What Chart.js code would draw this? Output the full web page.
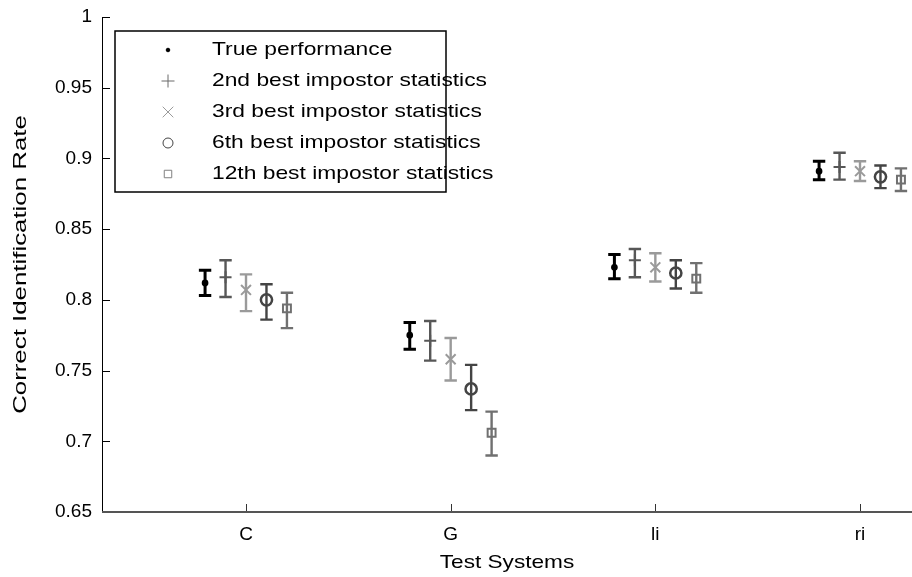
<!DOCTYPE html>
<html>
<head>
<meta charset="utf-8">
<script src="https://cdn.jsdelivr.net/npm/chart.js@4/dist/chart.umd.min.js"></script>
<style>
  html, body { margin: 0; padding: 0; background: #fff; }
  #c { display: block; }
</style>
</head>
<body>
<canvas id="c" width="912" height="577"></canvas>
<script>
// ---------------- data ----------------
const categories = ['C', 'G', 'li', 'ri'];
const seriesLabels = [
  'True performance',
  '2nd best impostor statistics',
  '3rd best impostor statistics',
  '6th best impostor statistics',
  '12th best impostor statistics'
];
const yTicks = [0.65, 0.7, 0.75, 0.8, 0.85, 0.9, 0.95, 1];
const xTitle = 'Test Systems';
const yTitle = 'Correct Identification Rate';

const trueMean = [0.812, 0.775, 0.823, 0.891];
const trueLow  = [0.803, 0.765, 0.815, 0.885];
const trueHigh = [0.821, 0.784, 0.832, 0.898];

const best2Mean = [0.816, 0.771, 0.828, 0.894];
const best2Low  = [0.802, 0.757, 0.816, 0.885];
const best2High = [0.828, 0.785, 0.836, 0.904];

const best3Mean = [0.807, 0.758, 0.823, 0.891];
const best3Low  = [0.792, 0.743, 0.813, 0.884];
const best3High = [0.818, 0.773, 0.833, 0.898];

const best6Mean = [0.800, 0.737, 0.819, 0.887];
const best6Low  = [0.786, 0.722, 0.808, 0.879];
const best6High = [0.811, 0.754, 0.828, 0.895];

const best12Mean = [0.794, 0.706, 0.815, 0.885];
const best12Low  = [0.780, 0.690, 0.805, 0.877];
const best12High = [0.805, 0.721, 0.826, 0.893];

// group dodge (category units)
const dodge = [-0.2, -0.1, 0, 0.1, 0.2];

// ---------------- styling ----------------
const FONT = "'Liberation Sans', Arial, Helvetica, sans-serif";
const colors = ['#000000', '#575757', '#9a9a9a', '#444444', '#707070'];
const legendColors = ['#000000', '#6a6a6a', '#9a9a9a', '#444444', '#808080'];
const styles = [
  { pointStyle: 'circle',   radius: 2.6, fill: true,  lw: 1.5 },
  { pointStyle: 'cross',    radius: 6,   fill: false, lw: 2 },
  { pointStyle: 'crossRot', radius: 7,   fill: false, lw: 2 },
  { pointStyle: 'circle',   radius: 5.6, fill: false, lw: 2.5 },
  { pointStyle: 'rect',     radius: 5.6, fill: false, lw: 2 }
];
const legendStyles = [
  { pointStyle: 'circle',   radius: 1.8, fill: true },
  { pointStyle: 'cross',    radius: 6.5, fill: false },
  { pointStyle: 'crossRot', radius: 7.5, fill: false },
  { pointStyle: 'circle',   radius: 5,   fill: false },
  { pointStyle: 'rect',     radius: 5.3, fill: false }
];

const means = [trueMean, best2Mean, best3Mean, best6Mean, best12Mean];
const lows  = [trueLow, best2Low, best3Low, best6Low, best12Low];
const highs = [trueHigh, best2High, best3High, best6High, best12High];

const datasets = seriesLabels.map((lab, k) => ({
  label: lab,
  data: categories.map((c, i) => ({ x: i + dodge[k], y: means[k][i] })),
  showLine: false,
  pointStyle: styles[k].pointStyle,
  pointRadius: styles[k].radius,
  pointBorderWidth: styles[k].lw,
  borderColor: colors[k],
  backgroundColor: styles[k].fill ? colors[k] : 'rgba(0,0,0,0)',
  pointBackgroundColor: styles[k].fill ? colors[k] : 'rgba(0,0,0,0)',
  pointBorderColor: colors[k],
  pointHoverRadius: styles[k].radius,
  clip: false
}));

// ---------------- plugins ----------------
const errorBars = {
  id: 'errorBars',
  beforeDatasetsDraw(chart) {
    const { ctx, scales: { x, y } } = chart;
    ctx.save();
    ctx.lineCap = 'butt';
    seriesLabels.forEach((lab, k) => {
      ctx.strokeStyle = colors[k];
      ctx.lineWidth = k === 0 ? 3 : 2.4;
      const cap = 6.2;
      categories.forEach((c, i) => {
        const px = x.getPixelForValue(i + dodge[k]);
        const yl = y.getPixelForValue(lows[k][i]);
        const yh = y.getPixelForValue(highs[k][i]);
        ctx.beginPath();
        ctx.moveTo(px, yl); ctx.lineTo(px, yh);
        ctx.moveTo(px - cap, yl); ctx.lineTo(px + cap, yl);
        ctx.moveTo(px - cap, yh); ctx.lineTo(px + cap, yh);
        ctx.stroke();
      });
    });
    ctx.restore();
  }
};

const axesPlugin = {
  id: 'axesPlugin',
  beforeDatasetsDraw(chart) {
    const { ctx, chartArea: a, scales: { x, y } } = chart;
    ctx.save();
    // left axis
    ctx.strokeStyle = '#000';
    ctx.lineWidth = 1;
    ctx.beginPath();
    ctx.moveTo(a.left + 0.5, a.top);
    ctx.lineTo(a.left + 0.5, a.bottom);
    yTicks.forEach(v => {
      const py = Math.round(y.getPixelForValue(v)) + 0.5;
      ctx.moveTo(a.left, py);
      ctx.lineTo(a.left + 8, py);
    });
    ctx.stroke();
    // x ticks
    ctx.strokeStyle = '#333';
    ctx.beginPath();
    categories.forEach((c, i) => {
      const px = Math.round(x.getPixelForValue(i)) + 0.5;
      ctx.moveTo(px, a.bottom);
      ctx.lineTo(px, a.bottom - 8);
    });
    ctx.stroke();
    // bottom axis
    ctx.strokeStyle = '#555';
    ctx.lineWidth = 2.2;
    ctx.beginPath();
    ctx.moveTo(a.left, a.bottom);
    ctx.lineTo(a.right, a.bottom);
    ctx.stroke();
    ctx.restore();
  }
};

function stretchedText(ctx, text, x, y, sx, rot) {
  ctx.save();
  ctx.translate(x, y);
  if (rot) ctx.rotate(rot);
  ctx.scale(sx, 1);
  ctx.fillText(text, 0, 0);
  ctx.restore();
}

const titlesPlugin = {
  id: 'titlesPlugin',
  afterDraw(chart) {
    const { ctx, chartArea: a } = chart;
    ctx.save();
    ctx.fillStyle = '#000';
    ctx.font = '19px ' + FONT;
    ctx.textAlign = 'center';
    ctx.textBaseline = 'middle';
    stretchedText(ctx, xTitle, (a.left + a.right) / 2, 563, 1.19, 0);
    stretchedText(ctx, yTitle, 21, (a.top + a.bottom) / 2, 1.36, -Math.PI / 2);
    ctx.restore();
  }
};

function drawLegend(chart) {
  const ctx = chart.ctx;
  const bx = 115, by = 31, bw = 331, bh = 161;
  ctx.save();
  ctx.fillStyle = '#fff';
  ctx.fillRect(bx, by, bw, bh);
  ctx.strokeStyle = '#000';
  ctx.lineWidth = 1.5;
  ctx.strokeRect(bx, by, bw, bh);
  const rowY0 = 50, rowStep = 31;
  ctx.font = '19px ' + FONT;
  ctx.textBaseline = 'middle';
  ctx.textAlign = 'left';
  seriesLabels.forEach((lab, k) => {
    const ry = rowY0 + k * rowStep;
    ctx.strokeStyle = legendColors[k];
    ctx.fillStyle = legendStyles[k].fill ? legendColors[k] : 'rgba(0,0,0,0)';
    ctx.lineWidth = 1;
    Chart.helpers.drawPoint(ctx, {
      pointStyle: legendStyles[k].pointStyle,
      radius: legendStyles[k].radius,
      rotation: 0,
      borderWidth: 1
    }, 168, ry);
    ctx.fillStyle = '#000';
    stretchedText(ctx, lab, 212, ry, 1.2, 0);
  });
  ctx.restore();
}
const legendPlugin = { id: 'legendPlugin', afterDraw: drawLegend };

// ---------------- chart ----------------
new Chart(document.getElementById('c'), {
  type: 'scatter',
  data: { datasets },
  plugins: [axesPlugin, errorBars, titlesPlugin, legendPlugin],
  options: {
    responsive: false,
    animation: false,
    layout: { autoPadding: false, padding: { top: 17, left: 0, right: 0, bottom: 0 } },
    plugins: { legend: { display: false }, tooltip: { enabled: false } },
    scales: {
      x: {
        type: 'linear',
        min: -0.7036,
        max: 3.254,
        afterBuildTicks: s => { s.ticks = categories.map((c, i) => ({ value: i })); },
        afterFit: s => { s.height = 65; s.paddingLeft = 0; s.paddingRight = 0; },
        grid: { display: false, drawTicks: false },
        border: { display: false },
        ticks: {
          autoSkip: false,
          maxRotation: 0,
          padding: 11,
          color: '#000',
          font: { family: FONT, size: 19 },
          callback: v => categories[v]
        },
        title: { display: false }
      },
      y: {
        type: 'linear',
        min: 0.65,
        max: 1,
        afterBuildTicks: s => { s.ticks = yTicks.map(v => ({ value: v })); },
        afterFit: s => { s.width = 102; s.paddingTop = 0; s.paddingBottom = 0; },
        grid: { display: false, drawTicks: false },
        border: { display: false },
        ticks: {
          padding: 10,
          color: '#000',
          font: { family: FONT, size: 19 },
          callback: v => String(+Number(v).toFixed(2))
        },
        title: { display: false }
      }
    }
  }
});
</script>
</body>
</html>
